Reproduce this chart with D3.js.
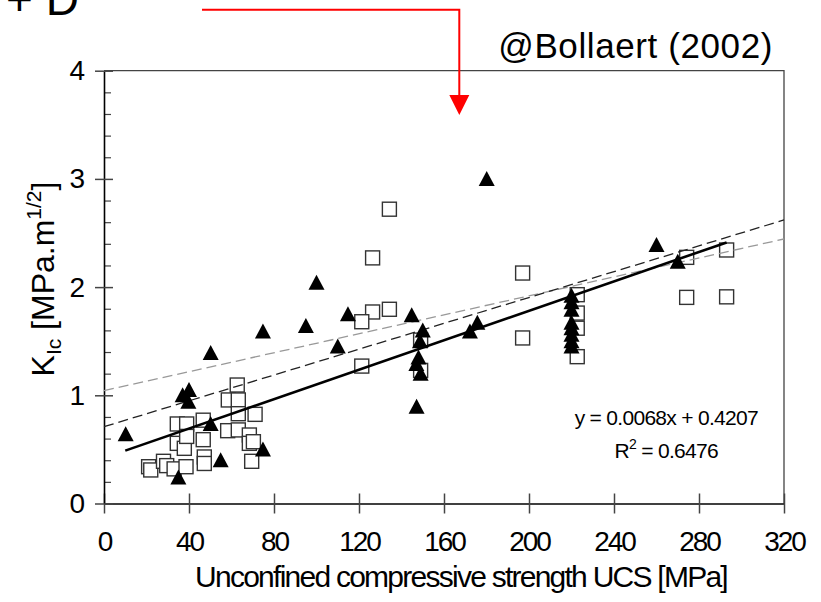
<!DOCTYPE html>
<html>
<head>
<meta charset="utf-8">
<script src="https://cdn.jsdelivr.net/npm/d3@7/dist/d3.min.js"></script>
<style>
  html, body { margin: 0; padding: 0; background: #fff; }
  svg { display: block; font-family: "Liberation Sans", Arial, sans-serif; }
</style>
</head>
<body>
<svg id="chart" width="821" height="602"></svg>
<script>
// Fracture toughness vs. unconfined compressive strength
const xTicks = [0, 40, 80, 120, 160, 200, 240, 280, 320];
const yTicks = [0, 1, 2, 3, 4];

// open squares: [UCS, KIc]
const squareUCS = [21, 22, 28, 29.5, 33, 38.6, 34.5, 38.9, 34.5, 37.8, 38.9, 46.7, 46.7, 47.2, 47.2,
  62.7, 58.5, 63.2, 63.2, 71.1, 58.2, 63.2, 68.4, 68.4, 70.3, 69.5,
  134.3, 126.4, 126.4, 134.3, 121.3, 121.3, 149, 149,
  197, 197, 222.7, 222.7, 222.7, 222.7, 274.2, 274.2, 293, 293];
const squareKIc = [0.34, 0.31, 0.39, 0.35, 0.32, 0.34, 0.735, 0.735, 0.556, 0.51, 0.62, 0.77, 0.59, 0.43, 0.37,
  1.095, 0.957, 0.957, 0.83, 0.824, 0.673, 0.68, 0.633, 0.556, 0.571, 0.39,
  2.72, 2.27, 1.77, 1.795, 1.68, 1.27, 1.51, 1.23,
  2.13, 1.53, 1.93, 1.76, 1.62, 1.357, 2.275, 1.905, 2.343, 1.91];

// filled triangles: [UCS, KIc]
const triUCS = [10.2, 35, 37, 40, 39.7, 50.2, 50.2, 54.9, 74.8, 74.8, 95, 100, 110, 114.8,
  144.8, 147.1, 150, 148.7, 148, 147, 149, 172.2, 175.7, 180.1,
  220, 220, 220, 220, 220, 220, 220, 220, 260, 270];
const triKIc = [0.64, 0.24, 1.0, 1.05, 0.94, 1.39, 0.735, 0.40, 0.50, 1.59, 1.64, 2.04, 1.45, 1.75,
  1.74, 0.895, 1.60, 1.50, 1.35, 1.29, 1.20, 1.59, 1.67, 3.0,
  1.92, 1.86, 1.79, 1.67, 1.62, 1.56, 1.50, 1.45, 2.39, 2.235];

// regression lines: [slope, intercept, xStart, xEnd]
const fitSolid = [0.0068, 0.4207, 10, 293];
const fitDashDark = [0.00597, 0.71, 0, 320];
const fitDashGray = [0.00438, 1.043, 0, 320];

const svg = d3.select("#chart");
const x = d3.scaleLinear().domain([0, 320]).range([104, 784]);
const y = d3.scaleLinear().domain([0, 4]).range([503.5, 70.7]);

// frame (top and right)
svg.append("path")
  .attr("d", `M${x(0)},${y(4)}H${x(320)}V${y(0)}`)
  .attr("fill", "none").attr("stroke", "#444").attr("stroke-width", 1.3);

// x axis
const gx = svg.append("g").attr("transform", `translate(0,${y(0)})`)
  .call(d3.axisBottom(x).tickValues(xTicks).tickSize(10).tickPadding(18).tickSizeOuter(0));
gx.select(".domain").attr("stroke", "#000").attr("stroke-width", 1.6);
gx.selectAll(".tick line").attr("y1", -10).attr("y2", 10).attr("stroke", "#444").attr("stroke-width", 1.5);
gx.selectAll(".tick text").attr("font-size", 28).attr("letter-spacing", "-2px")
  .attr("fill", "#000").attr("font-family", "Liberation Sans, Arial, sans-serif");

// y axis: minor ticks every 0.2, major ticks crossing the axis
const gyMinor = svg.append("g").attr("transform", `translate(${x(0)},0)`)
  .call(d3.axisRight(y).tickValues(d3.range(0, 4.01, 0.2).filter(v => Math.abs(v - Math.round(v)) > 1e-6))
    .tickSize(7).tickFormat(""));
gyMinor.select(".domain").remove();
gyMinor.selectAll(".tick line").attr("stroke", "#444").attr("stroke-width", 1.2);

const gy = svg.append("g").attr("transform", `translate(${x(0)},0)`)
  .call(d3.axisLeft(y).tickValues(yTicks).tickFormat(d3.format("d"))
    .tickSize(9).tickPadding(10).tickSizeOuter(0));
gy.select(".domain").attr("stroke", "#000").attr("stroke-width", 1.6);
gy.selectAll(".tick line").attr("x1", 9).attr("x2", -9).attr("stroke", "#444").attr("stroke-width", 1.5);
gy.selectAll(".tick text").attr("font-size", 28).attr("fill", "#000")
  .attr("font-family", "Liberation Sans, Arial, sans-serif");

// squares
svg.append("g").selectAll("rect").data(squareUCS.map((u, i) => [u, squareKIc[i]]))
  .join("rect")
  .attr("x", d => x(d[0]) - 7).attr("y", d => y(d[1]) - 7)
  .attr("width", 14).attr("height", 14)
  .attr("fill", "#fff").attr("stroke", "#333").attr("stroke-width", 1.4);

// regression lines
function fitLine(f, color, width, dash) {
  svg.append("line")
    .attr("x1", x(f[2])).attr("y1", y(f[0] * f[2] + f[1]))
    .attr("x2", x(f[3])).attr("y2", y(f[0] * f[3] + f[1]))
    .attr("stroke", color).attr("stroke-width", width)
    .attr("stroke-dasharray", dash);
}
fitLine(fitDashGray, "#999", 1.3, "10,5");
fitLine(fitDashDark, "#222", 1.3, "10,5");
fitLine(fitSolid, "#000", 2.6, null);

// triangles
svg.append("g").selectAll("path").data(triUCS.map((u, i) => [u, triKIc[i]]))
  .join("path")
  .attr("d", d => {
    const cx = x(d[0]), cy = y(d[1]);
    return `M${cx},${cy - 8}L${cx + 8},${cy + 7}L${cx - 8},${cy + 7}Z`;
  })
  .attr("fill", "#000");

// axis titles
svg.append("text")
  .attr("x", 461).attr("y", 587).attr("text-anchor", "middle")
  .attr("font-size", 30).attr("letter-spacing", "-1.75px")
  .text("Unconfined compressive strength UCS [MPa]");

const yl = svg.append("text")
  .attr("transform", "translate(54,279) rotate(-90)")
  .attr("text-anchor", "middle").attr("font-size", 32);
yl.append("tspan").text("K");
yl.append("tspan").attr("font-size", 21).attr("dy", 7).text("Ic");
yl.append("tspan").attr("dy", -7).text(" [MPa.m");
yl.append("tspan").attr("font-size", 21).attr("dy", -13).text("1/2");
yl.append("tspan").attr("dy", 13).text("]");

// regression equation
svg.append("text").attr("x", 758).attr("y", 425).attr("text-anchor", "end")
  .attr("font-size", 21).attr("letter-spacing", "-0.7px").text("y = 0.0068x + 0.4207");
const r2 = svg.append("text").attr("x", 718).attr("y", 458).attr("text-anchor", "end")
  .attr("font-size", 21).attr("letter-spacing", "-0.7px");
r2.append("tspan").text("R");
r2.append("tspan").attr("font-size", 14).attr("dy", -9).text("2");
r2.append("tspan").attr("dy", 9).text(" = 0.6476");

// source note and panel label
svg.append("text").attr("x", 773).attr("y", 58).attr("text-anchor", "end")
  .attr("font-size", 35).attr("letter-spacing", "0.6px").text("@Bollaert (2002)");
svg.append("text").attr("x", 6).attr("y", 15).attr("font-size", 46).text("+ D");

// red pointer arrow
svg.append("path")
  .attr("d", `M202,9.7H459.3V96`)
  .attr("fill", "none").attr("stroke", "#f00").attr("stroke-width", 2);
svg.append("path")
  .attr("d", "M449.3,95L469.3,95L459.3,115Z").attr("fill", "#f00");
</script>
</body>
</html>
